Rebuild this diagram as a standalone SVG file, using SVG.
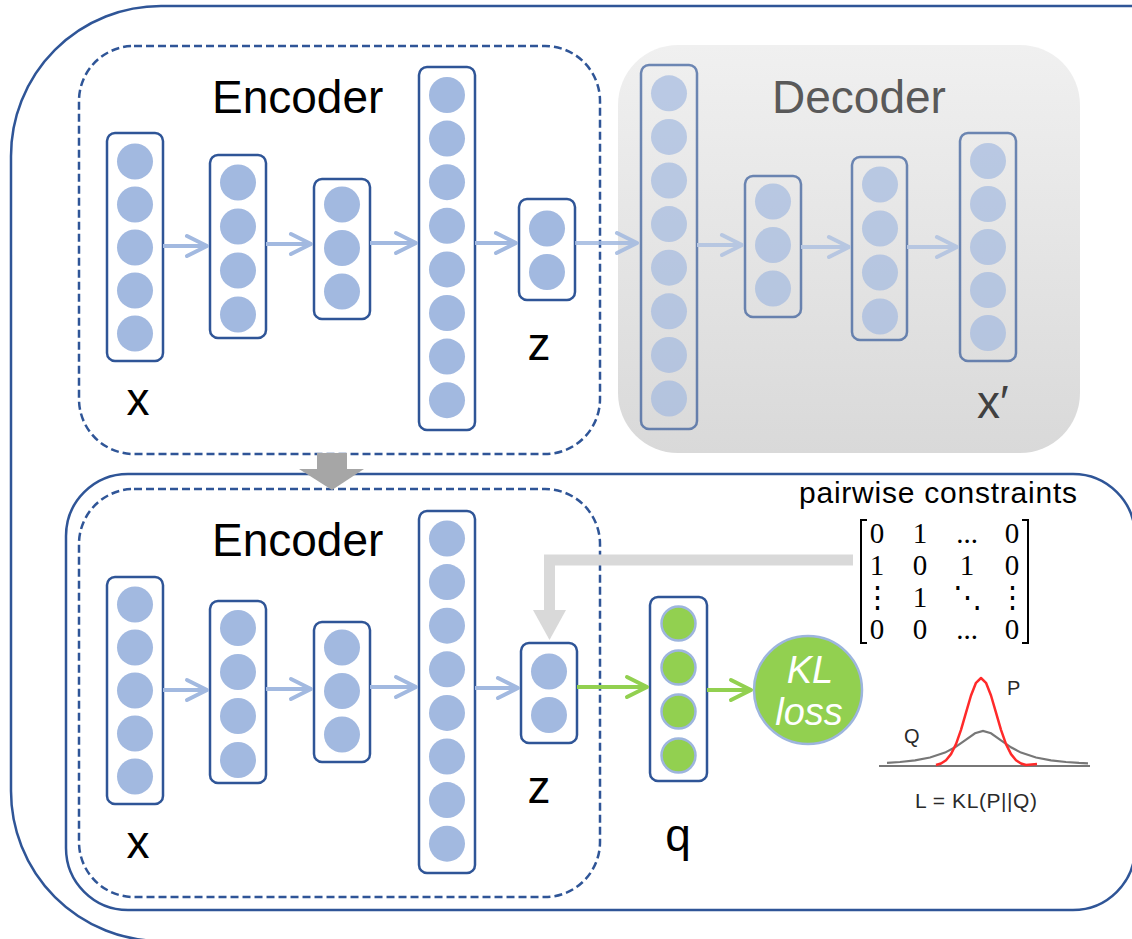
<svg xmlns="http://www.w3.org/2000/svg" width="1132" height="939" viewBox="0 0 1132 939">
  <defs>
    <style>
      .frame { fill: none; stroke: #2f5597; stroke-width: 2.5; }
      .dash { fill: none; stroke: #2f5597; stroke-width: 2.5; stroke-dasharray: 8 4; }
      .box { fill: #ffffff; stroke: #2f5597; stroke-width: 2.5; }
      .dbox { fill: none; stroke: #2f5597; stroke-width: 2.5; }
      .unit { fill: #a2b9e0; }
      .gunit { fill: #92d050; stroke: #9db5de; stroke-width: 2.5; }
      .arr { fill: none; stroke: #a2b9e0; stroke-width: 4; }
      .garr { fill: none; stroke: #92d050; stroke-width: 4; }
      .big { font-family: "Liberation Sans", Arial, sans-serif; font-size: 46px; fill: #000; }
      .mat { font-family: "Liberation Serif", "DejaVu Serif", serif; font-size: 29px; fill: #000; text-anchor: middle; }
      .small { font-family: "Liberation Sans", Arial, sans-serif; fill: #2a2a2a; }
    </style>
    <linearGradient id="decFill" x1="0" y1="0" x2="0" y2="1">
      <stop offset="0" stop-color="#f0f0f0"/>
      <stop offset="1" stop-color="#d9d9d9"/>
    </linearGradient>
    <marker id="chevBlue" markerUnits="userSpaceOnUse" viewBox="0 0 26 26" markerWidth="26" markerHeight="26" refX="23" refY="13" orient="auto" overflow="visible">
      <path d="M3,3 L23,13 L3,23" fill="none" stroke="#a2b9e0" stroke-width="4" stroke-linecap="round" stroke-linejoin="round"/>
    </marker>
    <marker id="chevGreen" markerUnits="userSpaceOnUse" viewBox="0 0 26 26" markerWidth="26" markerHeight="26" refX="23" refY="13" orient="auto" overflow="visible">
      <path d="M3,3 L23,13 L3,23" fill="none" stroke="#92d050" stroke-width="4" stroke-linecap="round" stroke-linejoin="round"/>
    </marker>
  </defs>

  <rect width="1132" height="939" fill="#ffffff"/>

  <!-- outer frame and clustering panel -->
  <g id="frames">
    <rect class="frame" x="11" y="6" width="1400" height="935" rx="150"/>
    <rect class="frame" x="66" y="474" width="1069" height="436" rx="62"/>
  </g>

  <!-- pretraining: encoder -->
  <g id="encoder-top">
    <rect class="dash" x="79" y="46" width="521" height="408" rx="55"/>
    <text class="big" x="212" y="113">Encoder</text>
  </g>

  <!-- pretraining: decoder -->
  <g id="decoder">
    <rect x="618" y="45" width="462" height="408" rx="60" fill="url(#decFill)"/>
    <text class="big" x="772" y="113" style="fill:#595959">Decoder</text>
    <g opacity="0.68">
      <g id="dec-layer1">
        <rect class="dbox" x="641" y="65" width="56" height="364" rx="8"/>
        <circle class="unit" cx="669" cy="93.3" r="18"/>
        <circle class="unit" cx="669" cy="136.9" r="18"/>
        <circle class="unit" cx="669" cy="180.5" r="18"/>
        <circle class="unit" cx="669" cy="224.1" r="18"/>
        <circle class="unit" cx="669" cy="267.7" r="18"/>
        <circle class="unit" cx="669" cy="311.3" r="18"/>
        <circle class="unit" cx="669" cy="354.9" r="18"/>
        <circle class="unit" cx="669" cy="398.5" r="18"/>
      </g>
      <g id="dec-layer2">
        <rect class="dbox" x="745" y="176" width="56" height="141" rx="8"/>
        <circle class="unit" cx="773" cy="201.5" r="18"/>
        <circle class="unit" cx="773" cy="245" r="18"/>
        <circle class="unit" cx="773" cy="288.5" r="18"/>
      </g>
      <g id="dec-layer3">
        <rect class="dbox" x="852" y="157" width="55" height="183" rx="8"/>
        <circle class="unit" cx="880" cy="184.5" r="18"/>
        <circle class="unit" cx="880" cy="228.5" r="18"/>
        <circle class="unit" cx="880" cy="272.5" r="18"/>
        <circle class="unit" cx="880" cy="316.5" r="18"/>
      </g>
      <g id="dec-layer4">
        <rect class="dbox" x="960" y="133" width="56" height="228" rx="8"/>
        <circle class="unit" cx="988" cy="161" r="18"/>
        <circle class="unit" cx="988" cy="204" r="18"/>
        <circle class="unit" cx="988" cy="247" r="18"/>
        <circle class="unit" cx="988" cy="290" r="18"/>
        <circle class="unit" cx="988" cy="333" r="18"/>
      </g>
      <g id="dec-arrows">
        <line class="arr" x1="697" y1="245" x2="742" y2="245" marker-end="url(#chevBlue)"/>
        <line class="arr" x1="801" y1="247" x2="849" y2="247" marker-end="url(#chevBlue)"/>
        <line class="arr" x1="907" y1="247" x2="957" y2="247" marker-end="url(#chevBlue)"/>
      </g>
    </g>
    <text class="big" x="977" y="418" style="fill:#404040">x′</text>
  </g>

  <!-- pretraining: encoder layers -->
  <g id="enc-top-x">
    <rect class="box" x="107" y="133" width="56" height="228" rx="8"/>
    <circle class="unit" cx="135" cy="161.5" r="18"/>
    <circle class="unit" cx="135" cy="204.5" r="18"/>
    <circle class="unit" cx="135" cy="247.5" r="18"/>
    <circle class="unit" cx="135" cy="290.5" r="18"/>
    <circle class="unit" cx="135" cy="333.5" r="18"/>
    <text class="big" x="138" y="415" text-anchor="middle">x</text>
  </g>
  <g id="enc-top-h1">
    <rect class="box" x="210" y="155" width="56" height="183" rx="8"/>
    <circle class="unit" cx="238" cy="182.5" r="18"/>
    <circle class="unit" cx="238" cy="226.5" r="18"/>
    <circle class="unit" cx="238" cy="270.5" r="18"/>
    <circle class="unit" cx="238" cy="314.5" r="18"/>
  </g>
  <g id="enc-top-h2">
    <rect class="box" x="314" y="179" width="56" height="140" rx="8"/>
    <circle class="unit" cx="342" cy="204.5" r="18"/>
    <circle class="unit" cx="342" cy="248" r="18"/>
    <circle class="unit" cx="342" cy="291.5" r="18"/>
  </g>
  <g id="enc-top-h3">
    <rect class="box" x="419" y="67" width="56" height="363" rx="8"/>
    <circle class="unit" cx="447" cy="95" r="18"/>
    <circle class="unit" cx="447" cy="138.6" r="18"/>
    <circle class="unit" cx="447" cy="182.2" r="18"/>
    <circle class="unit" cx="447" cy="225.8" r="18"/>
    <circle class="unit" cx="447" cy="269.4" r="18"/>
    <circle class="unit" cx="447" cy="313" r="18"/>
    <circle class="unit" cx="447" cy="356.6" r="18"/>
    <circle class="unit" cx="447" cy="400.2" r="18"/>
  </g>
  <g id="enc-top-z">
    <rect class="box" x="519" y="199" width="56" height="101" rx="8"/>
    <circle class="unit" cx="547" cy="228.5" r="18"/>
    <circle class="unit" cx="547" cy="272" r="18"/>
    <text class="big" x="539" y="360" text-anchor="middle">z</text>
  </g>

  <!-- clustering stage: encoder -->
  <g id="encoder-bottom">
    <rect class="dash" x="79" y="489" width="521" height="408" rx="55"/>
    <text class="big" x="212" y="556">Encoder</text>
  </g>
  <g id="enc-bot-x">
    <rect class="box" x="107" y="577" width="56" height="227" rx="8"/>
    <circle class="unit" cx="135" cy="604.5" r="18"/>
    <circle class="unit" cx="135" cy="647.5" r="18"/>
    <circle class="unit" cx="135" cy="690.5" r="18"/>
    <circle class="unit" cx="135" cy="733.5" r="18"/>
    <circle class="unit" cx="135" cy="776.5" r="18"/>
    <text class="big" x="138" y="858" text-anchor="middle">x</text>
  </g>
  <g id="enc-bot-h1">
    <rect class="box" x="210" y="601" width="56" height="182" rx="8"/>
    <circle class="unit" cx="238" cy="628" r="18"/>
    <circle class="unit" cx="238" cy="672" r="18"/>
    <circle class="unit" cx="238" cy="716" r="18"/>
    <circle class="unit" cx="238" cy="760" r="18"/>
  </g>
  <g id="enc-bot-h2">
    <rect class="box" x="314" y="622" width="56" height="140" rx="8"/>
    <circle class="unit" cx="342" cy="647.5" r="18"/>
    <circle class="unit" cx="342" cy="691" r="18"/>
    <circle class="unit" cx="342" cy="734.5" r="18"/>
  </g>
  <g id="enc-bot-h3">
    <rect class="box" x="419" y="511" width="56" height="362" rx="8"/>
    <circle class="unit" cx="447" cy="538.5" r="18"/>
    <circle class="unit" cx="447" cy="582.1" r="18"/>
    <circle class="unit" cx="447" cy="625.7" r="18"/>
    <circle class="unit" cx="447" cy="669.3" r="18"/>
    <circle class="unit" cx="447" cy="712.9" r="18"/>
    <circle class="unit" cx="447" cy="756.5" r="18"/>
    <circle class="unit" cx="447" cy="800.1" r="18"/>
    <circle class="unit" cx="447" cy="843.7" r="18"/>
  </g>
  <g id="enc-bot-z">
    <rect class="box" x="521" y="643" width="56" height="100" rx="8"/>
    <circle class="unit" cx="549" cy="671.5" r="18"/>
    <circle class="unit" cx="549" cy="715" r="18"/>
    <text class="big" x="539" y="803" text-anchor="middle">z</text>
  </g>

  <!-- soft assignment q -->
  <g id="q-layer">
    <rect class="box" x="650" y="597" width="57" height="184" rx="8"/>
    <circle class="gunit" cx="678.5" cy="623.5" r="17"/>
    <circle class="gunit" cx="678.5" cy="667.5" r="17"/>
    <circle class="gunit" cx="678.5" cy="711.5" r="17"/>
    <circle class="gunit" cx="678.5" cy="755.5" r="17"/>
    <text class="big" x="678" y="851" text-anchor="middle">q</text>
  </g>

  <!-- KL loss node -->
  <g id="kl-loss">
    <circle cx="808" cy="690" r="54" fill="#92d050" stroke="#9db5de" stroke-width="2.5"/>
    <text x="810" y="683" text-anchor="middle" font-family="Liberation Sans, Arial, sans-serif" font-size="38" font-style="italic" fill="#ffffff">KL</text>
    <text x="809" y="725" text-anchor="middle" font-family="Liberation Sans, Arial, sans-serif" font-size="38" font-style="italic" fill="#ffffff">loss</text>
  </g>

  <!-- pairwise constraint matrix -->
  <g id="constraints">
    <text x="799" y="503" font-family="Liberation Sans, Arial, sans-serif" font-size="30" textLength="278" fill="#000">pairwise constraints</text>
    <path d="M867,520 L861,520 L861,643 L867,643" fill="none" stroke="#000" stroke-width="2"/>
    <path d="M1022,520 L1028,520 L1028,643 L1022,643" fill="none" stroke="#000" stroke-width="2"/>
    <text class="mat" x="877" y="543">0</text>
    <text class="mat" x="920" y="543">1</text>
    <text class="mat" x="967" y="543">...</text>
    <text class="mat" x="1012" y="543">0</text>
    <text class="mat" x="877" y="575">1</text>
    <text class="mat" x="920" y="575">0</text>
    <text class="mat" x="967" y="575">1</text>
    <text class="mat" x="1012" y="575">0</text>
    <text class="mat" x="877" y="607">⋮</text>
    <text class="mat" x="920" y="607">1</text>
    <text class="mat" x="967" y="607">⋱</text>
    <text class="mat" x="1012" y="607">⋮</text>
    <text class="mat" x="877" y="639">0</text>
    <text class="mat" x="920" y="639">0</text>
    <text class="mat" x="967" y="639">...</text>
    <text class="mat" x="1012" y="639">0</text>
  </g>

  <!-- target vs. soft distribution sketch -->
  <g id="kl-sketch">
    <line x1="879" y1="766" x2="1090" y2="766" stroke="#777" stroke-width="2"/>
    <polyline fill="none" stroke="#777" stroke-width="2.2" points="887,762.9 900,762 915,760.3 930,757.5 945,752.6 955,747.3 965,740.3 975,733.3 983,731 991,733.3 1001,740.3 1011,747.3 1021,752.6 1036,757.5 1051,760.3 1066,762 1079,762.9 1088,763.3"/>
    <polyline fill="none" stroke="#ff2a2a" stroke-width="2.5" stroke-linejoin="round" points="936,765 941,763.5 946,760.2 951,754.1 956,744.1 961,729.8 966,712.6 971,695.5 976,682.8 981,678 986,682.8 991,695.5 996,712.6 1001,729.8 1006,744.1 1011,754.1 1016,760.2 1021,763.5 1026,765 1037,764"/>
    <text class="small" x="1007" y="695" font-size="20">P</text>
    <text class="small" x="904" y="743" font-size="20">Q</text>
    <text class="small" x="915" y="808" font-size="21" textLength="122">L = KL(P||Q)</text>
  </g>

  <!-- connectors -->
  <g id="connectors">
    <line class="arr" x1="163" y1="246" x2="207" y2="246" marker-end="url(#chevBlue)"/>
    <line class="arr" x1="266" y1="244" x2="311" y2="244" marker-end="url(#chevBlue)"/>
    <line class="arr" x1="370" y1="243" x2="416" y2="243" marker-end="url(#chevBlue)"/>
    <line class="arr" x1="475" y1="243" x2="516" y2="243" marker-end="url(#chevBlue)"/>
    <line class="arr" x1="575" y1="243" x2="637" y2="243" marker-end="url(#chevBlue)" opacity="0.85"/>

    <line class="arr" x1="163" y1="690" x2="207" y2="690" marker-end="url(#chevBlue)"/>
    <line class="arr" x1="266" y1="689" x2="311" y2="689" marker-end="url(#chevBlue)"/>
    <line class="arr" x1="370" y1="687" x2="416" y2="687" marker-end="url(#chevBlue)"/>
    <line class="arr" x1="475" y1="688" x2="518" y2="688" marker-end="url(#chevBlue)"/>

    <line class="garr" x1="577" y1="687" x2="647" y2="687" marker-end="url(#chevGreen)"/>
    <line class="garr" x1="707" y1="690" x2="751" y2="690" marker-end="url(#chevGreen)"/>

    <!-- constraints fed into the embedding -->
    <polyline points="853,560 549.5,560 549.5,612" fill="none" stroke="#d9d9d9" stroke-width="11"/>
    <polygon points="533,610 566,610 549.5,640" fill="#d9d9d9"/>

    <!-- pretrained encoder carried over -->
    <rect x="317" y="453" width="30" height="17" fill="#a6a6a6"/>
    <polygon points="299,469 364,469 332,490" fill="#a6a6a6"/>
  </g>
</svg>
